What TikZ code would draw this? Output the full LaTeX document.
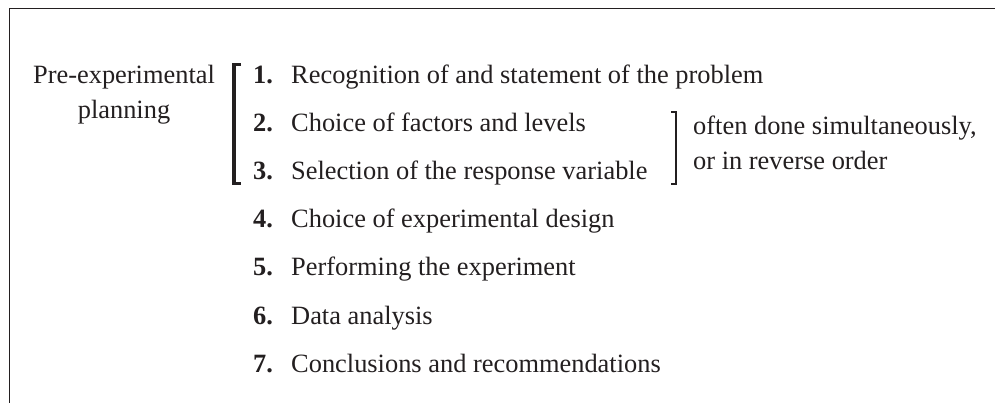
\documentclass[tikz,border=0pt]{standalone}
\usepackage{fontspec}
\setmainfont{Liberation Serif}
\usepackage{amsmath, amssymb}

\definecolor{inkgray}{HTML}{231F20}
\newcommand{\stepnum}[1]{\makebox[38pt][l]{\textbf{#1.}}}

\begin{document}
\begin{tikzpicture}[x=1pt,y=-1pt,text=inkgray,
    every node/.style={inner sep=0pt,anchor=base west,font=\fontsize{26.4}{34.5}\selectfont}]
                    \useasboundingbox (0,0) rectangle (995,403);
                    \draw[line width=1.6pt,draw=inkgray] (995,8.5) -- (9.5,8.5) -- (9.5,403);
                    \node[anchor=base,align=center] (pre) at (124,118.5) {Pre-experimental\\planning};
                    \node (s1) at (253,83.5) {\stepnum{1}Recognition of and statement of the problem};
                    \node (s2) at (253,131.6) {\stepnum{2}Choice of factors and levels};
                    \node (s3) at (253,179.7) {\stepnum{3}Selection of the response variable};
                    \node (s4) at (253,227.8) {\stepnum{4}Choice of experimental design};
                    \node (s5) at (253,275.9) {\stepnum{5}Performing the experiment};
                    \node (s6) at (253,324) {\stepnum{6}Data analysis};
                    \node (s7) at (253,372.1) {\stepnum{7}Conclusions and recommendations};
                    \node[align=left] (note) at (693,169.5) {often done simultaneously,\\or in reverse order};
                    % brackets
                    \draw[line width=3.5pt,draw=inkgray,line join=miter] (241,64.5) -- (234,64.5) -- (234,183.5) -- (241,183.5);
                    \draw[line width=2pt,draw=inkgray,line join=miter] (671,112.5) -- (676,112.5) -- (676,184) -- (671,184);
                \end{tikzpicture}
\end{document}
